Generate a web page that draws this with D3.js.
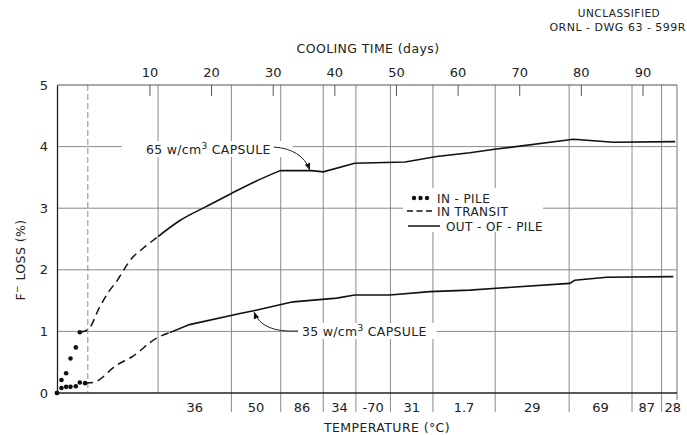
<!DOCTYPE html>
<html><head><meta charset="utf-8">
<script src="https://cdn.jsdelivr.net/npm/d3@7"></script>
<style>
body{margin:0;background:#fff}
text{font-family:"DejaVu Sans",sans-serif;fill:#222}
</style>
</head><body><svg id="c" width="687" height="435"></svg>
<script>
// ---------- data ----------
const coolingTicks = [10, 20, 30, 40, 50, 60, 70, 80, 90];
const lossTicks = [0, 1, 2, 3, 4, 5];
// vertical separators (cooling days)
const separators = [0, 11.4, 23.3, 31.3, 38.2, 43.5, 49.1, 56.0, 66.1, 78.1, 88.3, 93.1];
// temperature segment bounds and labels
const segmentBounds = [11.4, 23.3, 31.3, 38.2, 43.5, 49.1, 56.0, 66.1, 78.1, 88.3, 93.1, 95.6];
const tempLabels = ["36", "50", "86", "34", "-70", "31", "1.7", "29", "69", "87", "28"];

// 65 w/cm3 capsule
const inPile65Days = [-5, -4.27, -3.52, -2.81, -1.95, -1.3];
const inPile65 = [0, 0.21, 0.32, 0.56, 0.74, 0.985];
const transit65Days = [-1.3, 0.05, 1.95, 3.57, 4.87, 5.47, 7.35, 8.98, 11.4];
const transit65 = [0.985, 1.03, 1.40, 1.67, 1.84, 1.94, 2.21, 2.35, 2.54];
const out65Days = [11.4, 14.94, 19.27, 23.3, 27.1, 31.2, 36.3, 38.2, 43.3, 51.5, 56.6, 62.0, 66.3, 78.8, 85.3, 95.3];
const out65 = [2.54, 2.80, 3.03, 3.24, 3.43, 3.61, 3.61, 3.59, 3.73, 3.75, 3.84, 3.90, 3.96, 4.12, 4.07, 4.08];

// 35 w/cm3 capsule
const inPile35Days = [-5, -4.27, -3.52, -2.81, -1.95, -1.3, -0.44];
const inPile35 = [0, 0.08, 0.10, 0.10, 0.11, 0.17, 0.16];
const transit35Days = [-0.44, 0.86, 4.66, 7.35, 11.15, 13.3];
const transit35 = [0.16, 0.17, 0.45, 0.60, 0.89, 0.98];
const out35Days = [13.3, 16.5, 24.7, 27.1, 33.3, 40.4, 43.3, 49.0, 55.5, 62.0, 66.3, 78.2, 79.0, 84.2, 95.0];
const out35 = [0.98, 1.11, 1.29, 1.34, 1.48, 1.54, 1.59, 1.59, 1.645, 1.67, 1.70, 1.78, 1.83, 1.88, 1.89];

// ---------- layout ----------
const svg = d3.select("#c");
const L = 57, R = 677, T = 85, B = 393;
const x = d3.scaleLinear().domain([-5, 95.6]).range([L, R]);
const y = d3.scaleLinear().domain([0, 5]).range([B, T]);
const zip = (xs, ys) => xs.map((d, i) => [d, ys[i]]);
const lineLin = d3.line().x(d => x(d[0])).y(d => y(d[1]));
const lineMono = d3.line().x(d => x(d[0])).y(d => y(d[1])).curve(d3.curveMonotoneX);

// gridlines
svg.append("g").selectAll("line").data(lossTicks.filter(d => d > 0 && d < 5)).join("line")
  .attr("x1", L).attr("x2", R).attr("y1", d => y(d)).attr("y2", d => y(d))
  .attr("stroke", "#8a8a8a").attr("stroke-width", 1);

// vertical separators
svg.append("g").selectAll("line").data(separators).join("line")
  .attr("x1", d => x(d)).attr("x2", d => x(d))
  .attr("y1", T).attr("y2", (d, i) => i >= 2 ? 412 : B)
  .attr("stroke", "#8a8a8a").attr("stroke-width", 1)
  .attr("stroke-dasharray", (d, i) => i === 0 ? "6,3" : null);

const ann = svg.append("g");

// frame
svg.append("line").attr("x1", L).attr("x2", R).attr("y1", T).attr("y2", T).attr("stroke", "#555").attr("stroke-width", 1.2);
svg.append("line").attr("x1", R).attr("x2", R).attr("y1", T).attr("y2", 400).attr("stroke", "#777").attr("stroke-width", 1);

// top axis
const topAx = svg.append("g").attr("transform", `translate(0,${T})`)
  .call(d3.axisTop(x).tickValues(coolingTicks).tickSizeInner(-11).tickSizeOuter(0).tickPadding(8));
topAx.select(".domain").remove();
topAx.selectAll(".tick line").attr("stroke", "#555");
topAx.selectAll("text").attr("font-size", 13).style("font-family", "DejaVu Sans");

// left axis
const leftAx = svg.append("g").attr("transform", `translate(${L},0)`)
  .call(d3.axisLeft(y).tickValues(lossTicks).tickSize(0).tickPadding(9).tickFormat(d3.format("d")));
leftAx.select(".domain").attr("stroke", "#222").attr("stroke-width", 1.3);
leftAx.selectAll("text").attr("font-size", 13).style("font-family", "DejaVu Sans");

// bottom axis line
svg.append("line").attr("x1", L).attr("x2", R).attr("y1", B).attr("y2", B).attr("stroke", "#222").attr("stroke-width", 1.3);

// temperature labels
svg.append("g").selectAll("text").data(tempLabels).join("text")
  .attr("x", (d, i) => i === tempLabels.length - 1 ? x(segmentBounds[i]) + 3 : (x(segmentBounds[i]) + x(segmentBounds[i + 1])) / 2)
  .attr("y", 412).attr("text-anchor", (d, i) => i === tempLabels.length - 1 ? "start" : "middle")
  .attr("font-size", 13).text(d => d);

// axis titles
svg.append("text").attr("x", 368).attr("y", 53).attr("text-anchor", "middle").attr("font-size", 12.5)
  .attr("letter-spacing", 0.4).text("COOLING TIME (days)");
svg.append("text").attr("x", 387).attr("y", 432).attr("text-anchor", "middle").attr("font-size", 12.5)
  .attr("letter-spacing", 0.4).text("TEMPERATURE (°C)");
const yl = svg.append("text").attr("transform", "translate(25,260) rotate(-90)").attr("text-anchor", "middle")
  .attr("font-size", 12.5).attr("letter-spacing", 0.4);
yl.append("tspan").text("F");
yl.append("tspan").attr("baseline-shift", "super").attr("font-size", 9).text("−");
yl.append("tspan").text(" LOSS (%)");

// header
svg.append("text").attr("x", 619).attr("y", 17).attr("text-anchor", "middle").attr("font-size", 10.5).attr("letter-spacing", 0.5).text("UNCLASSIFIED");
svg.append("text").attr("x", 686).attr("y", 31).attr("text-anchor", "end").attr("font-size", 11).attr("letter-spacing", 0.5).text("ORNL - DWG 63 - 599R");

// ---------- curves ----------
const g = svg.append("g");
const pts65 = zip(out65Days, out65);
g.append("path").attr("d", lineMono(pts65.slice(0, 6))).attr("fill", "none").attr("stroke", "#111").attr("stroke-width", 1.6);
g.append("path").attr("d", lineLin(pts65.slice(5))).attr("fill", "none").attr("stroke", "#111").attr("stroke-width", 1.6);
g.append("path").attr("d", lineLin(zip(out35Days, out35))).attr("fill", "none").attr("stroke", "#111").attr("stroke-width", 1.6);
[[transit65Days, transit65], [transit35Days, transit35]].forEach(([xs, ys]) => {
  g.append("path").attr("d", lineMono(zip(xs, ys))).attr("fill", "none")
    .attr("stroke", "#111").attr("stroke-width", 1.5).attr("stroke-dasharray", "8,5");
});
[[inPile65Days, inPile65], [inPile35Days, inPile35]].forEach(([xs, ys]) => {
  g.append("g").selectAll("circle").data(zip(xs, ys)).join("circle")
    .attr("cx", d => x(d[0])).attr("cy", d => y(d[1])).attr("r", 2.3).attr("fill", "#111");
});

// ---------- annotations ----------
const defs = svg.append("defs");
defs.append("marker").attr("id", "ah").attr("viewBox", "0 0 10 10").attr("refX", 9).attr("refY", 5)
  .attr("markerWidth", 7).attr("markerHeight", 7).attr("orient", "auto")
  .append("path").attr("d", "M0,1 L10,5 L0,9 Z").attr("fill", "#111");

function label(tx, ty, num, bg) {
  const t = ann.append("text").attr("x", tx).attr("y", ty).attr("font-size", 12.5).attr("letter-spacing", 0.3);
  t.append("tspan").text(num + " w/cm");
  t.append("tspan").attr("baseline-shift", "super").attr("font-size", 9).text("3");
  t.append("tspan").text(" CAPSULE");
  const bb = t.node().getBBox();
  ann.insert("rect", "text").attr("x", bb.x - bg[0]).attr("y", bb.y).attr("width", bb.width + bg[0] + bg[1]).attr("height", bb.height).attr("fill", "#fff");
  return bb;
}
const b65 = label(146, 154, "65", [24, 22]);
const b35 = label(302, 336, "35", [4, 10]);

// arrows: tip on curves
const tip65 = [x(36.0), y(3.61) - 1];
ann.append("path").attr("d", `M${b65.x + b65.width + 3},${b65.y + 6} Q${tip65[0] - 8},${b65.y + 8} ${tip65[0]},${tip65[1]}`)
  .attr("fill", "none").attr("stroke", "#222").attr("stroke-width", 1).attr("marker-end", "url(#ah)");
const tip35 = [x(27.0), y(1.34) + 2];
ann.append("path").attr("d", `M${b35.x - 4},${b35.y + 8} Q${tip35[0] + 8},${b35.y + 10} ${tip35[0]},${tip35[1]}`)
  .attr("fill", "none").attr("stroke", "#222").attr("stroke-width", 1).attr("marker-end", "url(#ah)");

// legend
const lg = ann.append("g");
lg.append("rect").attr("x", 403).attr("y", 188).attr("width", 140).attr("height", 44).attr("fill", "#fff");
lg.selectAll("circle").data([0, 1, 2]).join("circle").attr("cx", d => 414 + d * 6.5).attr("cy", 198).attr("r", 2.2).attr("fill", "#111");
lg.append("line").attr("x1", 407).attr("x2", 432).attr("y1", 211).attr("y2", 211).attr("stroke", "#111").attr("stroke-width", 1.5).attr("stroke-dasharray", "6,3.5");
lg.append("line").attr("x1", 408).attr("x2", 440).attr("y1", 226).attr("y2", 226).attr("stroke", "#111").attr("stroke-width", 1.5);
lg.append("text").attr("x", 437).attr("y", 202.5).attr("font-size", 12).attr("letter-spacing", 0.4).text("IN - PILE");
lg.append("text").attr("x", 437).attr("y", 215.5).attr("font-size", 12).attr("letter-spacing", 0.4).text("IN TRANSIT");
lg.append("text").attr("x", 446).attr("y", 230.5).attr("font-size", 12).attr("letter-spacing", 0.4).text("OUT - OF - PILE");
</script>
</body></html>
